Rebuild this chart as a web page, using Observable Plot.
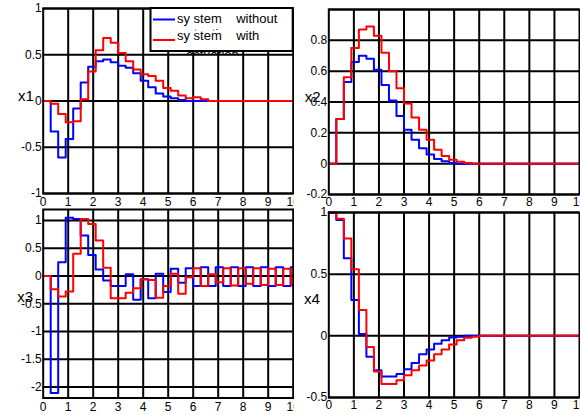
<!DOCTYPE html>
<html>
<head>
<meta charset="utf-8">
<script src="https://cdn.jsdelivr.net/npm/d3@7"></script>
<script src="https://cdn.jsdelivr.net/npm/@observablehq/plot@0.6"></script>
<style>
  html, body { margin: 0; padding: 0; background: white; }
  #chart { position: relative; width: 580px; height: 415px; overflow: hidden; background: white; }
  .panel { position: absolute; }
  .panel svg { display: block; overflow: hidden; }
</style>
</head>
<body>
<div id="chart"></div>
<script>
// Sample instants (stairs, sampling period 0.3)
const time = [0,0.3,0.6,0.9,1.2,1.5,1.8,2.1,2.4,2.7,3.0,3.3,3.6,3.9,4.2,4.5,4.8,5.1,5.4,5.7,
              6.0,6.3,6.6,6.9,7.2,7.5,7.8,8.1,8.4,8.7,9.0,9.3,9.6,9.9];
const tEnd = 10;

const legendLabels = ["sy stem    without", "sy stem    with"];
const legendGhost = "actuation";

// x1
const x1Without = [0,-0.33,-0.61,-0.41,-0.08,0.2,0.37,0.43,0.45,0.42,0.38,0.36,0.3,0.22,0.15,0.08,0.05,0.03,0.01,
                   0,0,0,0,0,0,0,0,0,0,0,0,0,0,0];
const x1With    = [0,-0.03,-0.14,-0.23,-0.22,0.02,0.32,0.55,0.68,0.63,0.52,0.43,0.34,0.29,0.27,0.22,0.14,0.11,0.06,0.03,0.04,0.02,
                   0,0,0,0,0,0,0,0,0,0,0,0];
// x2
const x2Without = [0,0.29,0.53,0.66,0.70,0.68,0.61,0.51,0.41,0.31,0.22,0.155,0.10,0.06,0.03,0.015,0.005,
                   0,0,0,0,0,0,0,0,0,0,0,0,0,0,0,0,0];
const x2With    = [0,0.29,0.56,0.75,0.87,0.89,0.83,0.72,0.60,0.49,0.39,0.30,0.22,0.155,0.09,0.05,0.025,0.012,0.005,
                   0,0,0,0,0,0,0,0,0,0,0,0,0,0,0];
// x3
const x3Without = [0,-2.11,0.25,1.05,1.03,0.73,0.38,0.12,-0.08,-0.18,-0.18,0.03,-0.43,-0.06,-0.40,0.04,-0.29,0.13,-0.12,0.14,
                   -0.18,0.16,-0.18,0.16,-0.18,0.16,-0.18,0.16,-0.18,0.16,-0.18,0.16,-0.18,0.16];
const x3With    = [0,-0.24,-0.37,-0.28,0.40,1.03,0.94,0.64,0.15,-0.40,-0.40,-0.30,-0.22,-0.06,-0.07,-0.39,-0.18,0.04,-0.32,-0.02,
                   0.14,-0.18,0.03,-0.11,0.14,-0.17,0.14,-0.14,0.14,-0.16,0.13,-0.16,0.13,-0.16];
// x4
const x4Without = [1,0.94,0.63,0.29,0.015,-0.17,-0.28,-0.33,-0.33,-0.31,-0.27,-0.22,-0.15,-0.11,-0.065,-0.035,-0.014,-0.008,
                   0,0,0,0,0,0,0,0,0,0,0,0,0,0,0,0];
const x4With    = [1,0.95,0.79,0.54,0.21,-0.09,-0.29,-0.39,-0.39,-0.36,-0.32,-0.28,-0.24,-0.20,-0.15,-0.11,-0.07,-0.035,-0.016,-0.008,
                   0,0,0,0,0,0,0,0,0,0,0,0,0,0];

const xTicks = [0,1,2,3,4,5,6,7,8,9,10];
const xGrid = [1,2,3,4,5,6,7,8,9];
const yTicks1 = [-1,-0.5,0,0.5,1];
const yTicks2 = [-0.2,0,0.2,0.4,0.6,0.8];
const yGrid2 = [-0.2,0,0.2,0.4,0.6,0.8,1];
const yTicks3 = [-2,-1.5,-1,-0.5,0,0.5,1];
const yTicks4 = [-0.5,0,0.5,1];

const BLUE = "#0000ff", RED = "#ff0000";
const FONT = "'Liberation Sans', Arial, Helvetica, sans-serif";

function toRows(values) {
  const rows = time.map((t, i) => ({t, v: values[i]}));
  rows.push({t: tEnd, v: values[values.length - 1]});
  return rows;
}

function panel(cfg) {
  const div = document.createElement("div");
  div.className = "panel";
  div.style.left = cfg.left + "px";
  div.style.top = cfg.top + "px";
  div.style.width = cfg.width + "px";
  div.style.height = cfg.height + "px";
  const svg = Plot.plot({
    width: cfg.width,
    height: cfg.height,
    marginLeft: cfg.ml, marginRight: cfg.mr, marginTop: cfg.mt, marginBottom: cfg.mb,
    style: {fontFamily: FONT, fontSize: "12px", background: "white", color: "black", overflow: "hidden"},
    x: {domain: [0, 10], ticks: xTicks, tickSize: 0, tickPadding: cfg.xpad, tickFormat: d => String(d), label: null},
    y: {domain: cfg.ydomain, ticks: cfg.yticks, tickSize: 0, tickPadding: 1.5, tickFormat: d => String(d), label: null},
    marks: [
      Plot.ruleX(xGrid, {stroke: "black", strokeWidth: 2}),
      Plot.ruleY(cfg.ygrid || cfg.yticks, {stroke: "black", strokeWidth: 2}),
      Plot.lineY(toRows(cfg.blue), {x: "t", y: "v", curve: "step-after", stroke: BLUE, strokeWidth: 2}),
      Plot.lineY(toRows(cfg.red), {x: "t", y: "v", curve: "step-after", stroke: RED, strokeWidth: 2}),
      Plot.frame({stroke: "black", strokeWidth: 2}),
      Plot.text([cfg.label], {x: 0, y: cfg.labelY, text: d => d, textAnchor: "end", lineAnchor: "bottom",
                              dx: cfg.labelDx, fontSize: 15, fill: "black"})
    ]
  });
  div.appendChild(svg);
  document.getElementById("chart").appendChild(div);
  return div;
}

const tl = panel({left: 0, top: 0, width: 294, height: 208, ml: 42.7, mr: 1.3, mt: 8, mb: 15, xpad: 4,
  ydomain: [-1, 1], yticks: yTicks1, blue: x1Without, red: x1With, label: "x1", labelY: 0, labelDx: -9.4});
panel({left: 0, top: 207, width: 294, height: 208, ml: 42.7, mr: 1.3, mt: 2, mb: 17.5, xpad: 4.5,
  ydomain: [-2.2, 1.2], yticks: yTicks3, blue: x3Without, red: x3With, label: "x3", labelY: -0.47, labelDx: -10});
panel({left: 294, top: 0, width: 286, height: 208, ml: 34.3, mr: 1, mt: 9, mb: 14, xpad: 3,
  ydomain: [-0.2, 1], yticks: yTicks2, ygrid: yGrid2, blue: x2Without, red: x2With, label: "x2", labelY: 0.4, labelDx: -8.3});
panel({left: 294, top: 207, width: 286, height: 208, ml: 34.3, mr: 1, mt: 5, mb: 18, xpad: 2.5,
  ydomain: [-0.5, 1], yticks: yTicks4, blue: x4Without, red: x4With, label: "x4", labelY: 0.26, labelDx: -9});

// Legend (inside the x1 panel)
const lg = d3.select(tl).append("svg")
  .attr("width", 294).attr("height", 60)
  .style("position", "absolute").style("left", "0px").style("top", "0px")
  .style("overflow", "hidden");
const defs = lg.append("defs");
defs.append("clipPath").attr("id", "ghost1")
  .append("rect").attr("x", 150).attr("y", 20).attr("width", 143).attr("height", 10.5);
defs.append("clipPath").attr("id", "ghost2")
  .append("rect").attr("x", 150).attr("y", 45).attr("width", 143).attr("height", 9);
lg.append("rect").attr("x", 150.5).attr("y", 8).attr("width", 142.2).attr("height", 43)
  .attr("fill", "white").attr("stroke", "black").attr("stroke-width", 2);
lg.append("text").attr("x", 180).attr("y", 37.5).attr("clip-path", "url(#ghost1)")
  .attr("font-family", FONT).attr("font-size", 13).attr("fill", "black").text(legendGhost);
lg.append("text").attr("x", 186).attr("y", 58.5).attr("clip-path", "url(#ghost2)")
  .attr("font-family", FONT).attr("font-size", 13).attr("fill", "black").text(legendGhost);
lg.append("line").attr("x1", 153).attr("x2", 175).attr("y1", 19.5).attr("y2", 19.5)
  .attr("stroke", BLUE).attr("stroke-width", 2);
lg.append("line").attr("x1", 153).attr("x2", 175).attr("y1", 40).attr("y2", 40)
  .attr("stroke", RED).attr("stroke-width", 2);
lg.append("text").attr("x", 177).attr("y", 23.3).attr("xml:space", "preserve").style("white-space", "pre")
  .attr("font-family", FONT).attr("font-size", 13).attr("fill", "black").text(legendLabels[0]);
lg.append("text").attr("x", 177).attr("y", 39.8).attr("xml:space", "preserve").style("white-space", "pre")
  .attr("font-family", FONT).attr("font-size", 13).attr("fill", "black").text(legendLabels[1]);
</script>
</body>
</html>
